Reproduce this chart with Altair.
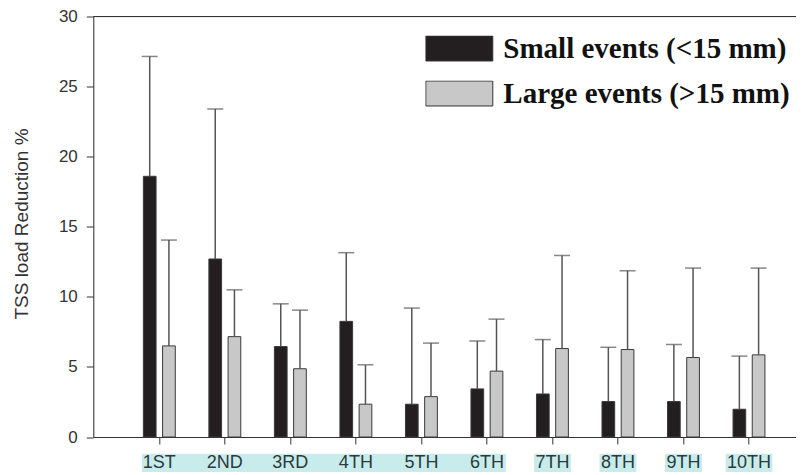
import altair as alt
import pandas as pd

labels = ["1ST", "2ND", "3RD", "4TH", "5TH", "6TH", "7TH", "8TH", "9TH", "10TH"]
series = ["Small events (<15 mm)", "Large events (>15 mm)"]
small_mean = [18.6, 12.7, 6.45, 8.25, 2.34, 3.43, 3.07, 2.53, 2.53, 1.98]
small_upper = [27.15, 23.4, 9.5, 13.15, 9.2, 6.85, 6.95, 6.4, 6.6, 5.77]
large_mean = [6.5, 7.16, 4.87, 2.34, 2.88, 4.70, 6.31, 6.24, 5.67, 5.86]
large_upper = [14.05, 10.5, 9.05, 5.15, 6.7, 8.41, 12.95, 11.86, 12.05, 12.05]

# label highlight groups (as in the source scan)
hl_group = [("1ST", "6TH")]
hl_single = [("7TH", "7TH"), ("8TH", "8TH"), ("9TH", "9TH")]
hl_wide = [("10TH", "10TH")]

rows = []
for i, lab in enumerate(labels):
    rows.append({"label": lab, "series": series[0], "value": small_mean[i], "upper": small_upper[i]})
    rows.append({"label": lab, "series": series[1], "value": large_mean[i], "upper": large_upper[i]})
df = pd.DataFrame(rows)
lab_df = pd.DataFrame({"label": labels})

W = 702.7
H = 420.5

xscale = alt.Scale(domain=labels, paddingInner=0, paddingOuter=0.3626, align=0.70)
offscale = alt.Scale(domain=series, paddingInner=0.339, paddingOuter=0.875)
yscale = alt.Scale(domain=[0, 30], nice=False)

base = alt.Chart(df)

bars = base.mark_bar(stroke="#3a3a3a", strokeWidth=1).encode(
    x=alt.X("label:N", scale=xscale, title=None),
    xOffset=alt.XOffset("series:N", scale=offscale),
    y=alt.Y("value:Q", scale=yscale, title="TSS load Reduction %",
            axis=alt.Axis(values=[0, 5, 10, 15, 20, 25, 30])),
    color=alt.Color(
        "series:N",
        scale=alt.Scale(domain=series, range=["#231f20", "#c8c8c8"]),
        legend=alt.Legend(
            title=None, orient="none", legendX=332, legendY=19,
            symbolType="M-1,-0.373H1V0.373H-1Z", symbolSize=4489,
            symbolStrokeColor="#333", symbolStrokeWidth=1,
            labelFont="Liberation Serif", labelFontWeight="bold", labelFontSize=29,
            labelColor="#111", labelOffset=10, labelLimit=0,
            clipHeight=26, rowPadding=16, padding=0,
        ),
    ),
)

err = base.mark_rule(color="#555", strokeWidth=1.5).encode(
    x=alt.X("label:N", scale=xscale),
    xOffset=alt.XOffset("series:N", scale=offscale),
    y=alt.Y("value:Q", scale=yscale),
    y2="upper:Q",
)

caps = base.mark_tick(color="#555", thickness=1.5, size=16).encode(
    x=alt.X("label:N", scale=xscale),
    xOffset=alt.XOffset("series:N", scale=offscale),
    y=alt.Y("upper:Q", scale=yscale),
)

top_line = alt.Chart(pd.DataFrame({"v": [30]})).mark_rule(color="#333", strokeWidth=1).encode(
    y=alt.Y("v:Q", scale=yscale)
)

def hl_layer(pairs, off_l, off_r):
    d = pd.DataFrame({"start": [p[0] for p in pairs], "end": [p[1] for p in pairs]})
    return alt.Chart(d).mark_rect(color="#c8ecec", xOffset=off_l, x2Offset=off_r).encode(
        x=alt.X("start:N", scale=xscale, bandPosition=0),
        x2=alt.X2("end:N", bandPosition=1),
        y=alt.value(H + 16.7),
        y2=alt.value(H + 35.1),
    )

hl1 = hl_layer(hl_group, 15.3, -13.8)
hl2 = hl_layer(hl_single, 14.3, -14.3)
hl3 = hl_layer(hl_wide, 9.4, -9.4)

xlabels = alt.Chart(lab_df).mark_text(
    font="Liberation Sans", fontSize=18, color="#2b3a3a", baseline="middle", align="center"
).encode(
    x=alt.X("label:N", scale=xscale),
    y=alt.value(H + 26),
    text="label:N",
)

chart = alt.layer(bars, err, caps, top_line, hl1, hl2, hl3, xlabels).properties(
    width=W, height=H,
    autosize=alt.AutoSizeParams(type="none"),
    padding={"left": 85.3, "top": 8.5, "right": 0, "bottom": 38},
).configure_view(stroke=None).configure(background="white").configure_axis(
    labelFont="Liberation Sans", labelFontSize=17, domainColor="#333", tickColor="#333",
    tickSize=7, grid=False,
).configure_axisX(
    labels=False, title=None,
).configure_axisY(
    labelPadding=9, labelColor="#333",
    titleFont="Liberation Sans", titleFontSize=19, titleFontWeight="normal",
    titleColor="#333", titleX=-72, titleY=207, titleAngle=270,
    titleAlign="center", titleBaseline="middle",
)

chart.save("out.html", embed_options={"renderer": "svg", "actions": False})
